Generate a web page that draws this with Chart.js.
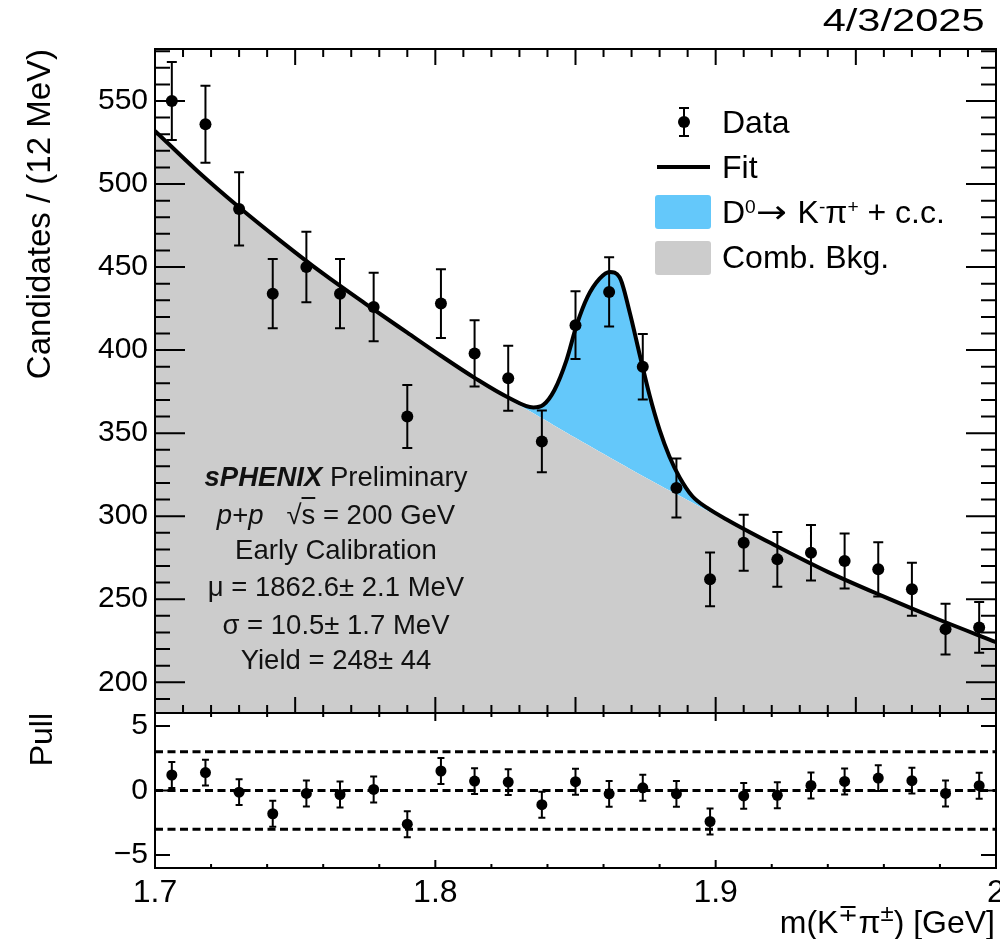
<!DOCTYPE html>
<html>
<head>
<meta charset="utf-8">
<script src="https://cdn.jsdelivr.net/npm/chart.js@4.4.1/dist/chart.umd.min.js"></script>
<style>
  html, body { margin: 0; padding: 0; background: #fff; overflow: hidden; }
  body { width: 1000px; height: 939px; position: relative; font-family: 'Liberation Sans', Arial, sans-serif; color: #000; }
  canvas { position: absolute; left: 0; }
  #mainCanvas { top: 0; }
  #pullCanvas { top: 688px; }
  .txt { position: absolute; white-space: nowrap; line-height: 1; }
  .sup { position: relative; top: -0.5em; font-size: 60%; line-height: 0; }
  .ann { position: absolute; left: 336px; transform: translateX(-50%); font-size: 27.5px; line-height: 1; white-space: nowrap; color: #111; }
  .leg { position: absolute; left: 722px; font-size: 32px; line-height: 1; white-space: nowrap; }
  .arrow { font-family: 'DejaVu Sans', sans-serif; display: inline-block; transform: scaleX(1.15); transform-origin: left center; margin-right: 15px; }
  .box { position: absolute; }
</style>
</head>
<body>
<canvas id="mainCanvas" width="1030" height="760"></canvas>
<canvas id="pullCanvas" width="1030" height="251"></canvas>

<div class="txt" style="right:15px; top:4px; font-size:32px; transform:scaleX(1.3); transform-origin:right center;">4/3/2025</div>

<!-- legend -->
<div class="box" style="left:683px; top:108px; width:2px; height:28px; background:#000;"></div>
<div class="box" style="left:679px; top:107px; width:10px; height:2px; background:#000;"></div>
<div class="box" style="left:679px; top:135px; width:10px; height:2px; background:#000;"></div>
<div class="box" style="left:678px; top:116px; width:12px; height:12px; border-radius:50%; background:#000;"></div>
<div class="box" style="left:657px; top:165px; width:53px; height:4px; background:#000;"></div>
<div class="box" style="left:655px; top:195px; width:56px; height:34px; border-radius:3px; background:rgb(100,200,250);"></div>
<div class="box" style="left:655px; top:241px; width:56px; height:34px; border-radius:3px; background:#cccccc;"></div>
<div class="leg" style="top:106px;">Data</div>
<div class="leg" style="top:151px;">Fit</div>
<div class="leg" style="top:196px;">D<span class="sup">0</span><span class="arrow">→</span>K<span class="sup">-</span>π<span class="sup">+</span> + c.c.</div>
<div class="leg" style="top:241px;">Comb. Bkg.</div>

<!-- annotation -->
<div class="ann" style="top:463px;"><b><i>sPHENIX</i></b> Preliminary</div>
<div class="ann" style="top:501px;"><i>p</i>+<i>p</i>&nbsp;&nbsp;&nbsp;√<span style="text-decoration:overline">s</span> = 200 GeV</div>
<div class="ann" style="top:536px;">Early Calibration</div>
<div class="ann" style="top:573px;">μ = 1862.6± 2.1 MeV</div>
<div class="ann" style="top:611px;">σ = 10.5± 1.7 MeV</div>
<div class="ann" style="top:646px;">Yield = 248± 44</div>

<div class="txt" style="right:5px; top:906px; font-size:32px;">m(K<span class="sup" style="font-size:75%">∓</span>π<span class="sup" style="font-size:75%">±</span>) [GeV]</div>

<script>
// ---- values ----
const binCenters = [1.706, 1.718, 1.730, 1.742, 1.754, 1.766, 1.778, 1.790, 1.802, 1.814, 1.826, 1.838, 1.850,
                    1.862, 1.874, 1.886, 1.898, 1.910, 1.922, 1.934, 1.946, 1.958, 1.970, 1.982, 1.994];
const counts = [550, 536, 485, 434, 450, 434, 426, 360, 428, 398, 383, 345, 415,
                435, 390, 317, 262, 284, 274, 278, 273, 268, 256, 232, 233];
const countErr = [23.45, 23.15, 22.02, 20.83, 21.21, 20.83, 20.64, 18.97, 20.69, 19.95, 19.57, 18.57, 20.37,
                  20.86, 19.75, 17.80, 16.19, 16.85, 16.55, 16.67, 16.52, 16.37, 16.00, 15.23, 15.26];
const pulls = [1.2, 1.39, -0.13, -1.8, -0.23, -0.31, 0.08, -2.61, 1.51, 0.73, 0.65, -1.1, 0.68,
               -0.26, 0.21, -0.26, -2.4, -0.42, -0.37, 0.39, 0.7, 0.96, 0.76, -0.23, 0.37];
const pullErr = [1, 1, 1, 1, 1, 1, 1, 1, 1, 1, 1, 1, 1, 1, 1, 1, 1, 1, 1, 1, 1, 1, 1, 1, 1];

// fit curve (signal + background) and background alone
const curveMass = [1.700, 1.715, 1.730, 1.745, 1.760, 1.775, 1.790, 1.802, 1.814, 1.826, 1.835, 1.8385, 1.8425,
                   1.8468, 1.8504, 1.8543, 1.8586, 1.8622, 1.8657, 1.8693, 1.8728, 1.8764, 1.880, 1.8835, 1.8871,
                   1.8917, 1.897, 1.905, 1.920, 1.940, 1.960, 1.980, 2.000];
const fitTotal = [532, 508, 486, 465.5, 446, 428, 410.5, 396.6, 383.3, 371.5, 365.5, 367, 376,
                  394, 415, 432, 443, 447, 444, 423, 398, 373, 352, 336, 323.5,
                  312, 305, 297, 283.5, 266.5, 251.6, 237.5, 224.2];
const fitBkg = [532, 508, 486, 465.5, 446, 428, 410.5, 396.6, 383.1, 370.6, 362, 358.5, 354.5,
                350.3, 346.8, 343, 338.8, 335.4, 332, 328.6, 325.3, 322, 318.7, 315.5, 312.3,
                308.1, 303.3, 296.3, 283.3, 266.5, 251.6, 237.5, 224.2];

const pullGuides = [3, 0, -3];
const mainYTicks = [200, 250, 300, 350, 400, 450, 500, 550];
const pullYTicks = [-5, 0, 5];
const massTicks = [1.7, 1.8, 1.9, 2.0];

const bkgGray = '#cccccc';
const signalBlue = 'rgb(100,200,250)';
const fontFamily = "'Liberation Sans', Arial, sans-serif";

Chart.defaults.font.family = fontFamily;
Chart.defaults.color = '#000';

// frame with inward ticks, ROOT style
const framePlugin = {
  id: 'frame',
  afterDraw(chart, args, opts) {
    const { ctx, chartArea: a, scales: { x, y } } = chart;
    ctx.save();
    ctx.strokeStyle = '#000';
    ctx.lineWidth = 2;
    ctx.beginPath();
    for (let i = 0; i <= opts.xCount; i++) {
      const px = x.getPixelForValue(x.min + i * opts.xStep);
      const major = i % opts.xMajorEvery === 0;
      const lenTop = major ? opts.xMajorTop : opts.xMinorTop;
      const lenBot = major ? opts.xMajorBot : opts.xMinorBot;
      ctx.moveTo(px, a.top); ctx.lineTo(px, a.top + lenTop);
      ctx.moveTo(px, a.bottom); ctx.lineTo(px, a.bottom - lenBot);
    }
    const start = Math.ceil(y.min / opts.yStep) * opts.yStep;
    for (let v = start; v <= y.max; v += opts.yStep) {
      const py = y.getPixelForValue(v);
      const len = Math.abs(v % opts.yMajor) < 1e-6 ? opts.yMajorLen : opts.yMinorLen;
      ctx.moveTo(a.left, py); ctx.lineTo(a.left + len, py);
      ctx.moveTo(a.right, py); ctx.lineTo(a.right - len, py);
    }
    ctx.stroke();
    ctx.strokeRect(a.left, a.top, a.right - a.left, a.bottom - a.top);
    ctx.restore();
  }
};

const errorBarPlugin = {
  id: 'errorBars',
  afterDatasetsDraw(chart) {
    const { ctx, chartArea: a, scales: { y } } = chart;
    chart.data.datasets.forEach((ds, di) => {
      if (!ds.errors) return;
      const meta = chart.getDatasetMeta(di);
      ctx.save();
      ctx.beginPath();
      ctx.rect(a.left, a.top, a.right - a.left, a.bottom - a.top);
      ctx.clip();
      ctx.strokeStyle = '#000';
      ctx.lineWidth = ds.errWidth;
      ctx.beginPath();
      meta.data.forEach((pt, i) => {
        const v = ds.data[i].y, e = ds.errors[i];
        const top = y.getPixelForValue(v + e), bot = y.getPixelForValue(v - e);
        ctx.moveTo(pt.x, top); ctx.lineTo(pt.x, bot);
        ctx.moveTo(pt.x - ds.capHalf, top); ctx.lineTo(pt.x + ds.capHalf, top);
        ctx.moveTo(pt.x - ds.capHalf, bot); ctx.lineTo(pt.x + ds.capHalf, bot);
      });
      ctx.stroke();
      ctx.restore();
    });
  }
};

const toXY = (xs, ys) => xs.map((m, i) => ({ x: m, y: ys[i] }));

// ---- main panel ----
new Chart(document.getElementById('mainCanvas'), {
  type: 'line',
  data: {
    datasets: [
      {
        label: 'Comb. Bkg.',
        data: toXY(curveMass, fitBkg),
        borderWidth: 0,
        pointRadius: 0,
        backgroundColor: bkgGray,
        fill: 'start',
        cubicInterpolationMode: 'monotone',
        order: 3
      },
      {
        label: 'Fit',
        data: toXY(curveMass, fitTotal),
        borderColor: '#000',
        borderWidth: 4,
        pointRadius: 0,
        backgroundColor: signalBlue,
        fill: { target: 0, above: signalBlue, below: 'rgba(0,0,0,0)' },
        cubicInterpolationMode: 'monotone',
        order: 2
      },
      {
        label: 'Data',
        data: toXY(binCenters, counts),
        showLine: false,
        pointRadius: 6,
        pointBorderWidth: 0,
        pointBackgroundColor: '#000',
        errors: countErr,
        errWidth: 2,
        capHalf: 5,
        order: 1
      }
    ]
  },
  options: {
    responsive: false,
    animation: false,
    devicePixelRatio: 1,
    layout: { padding: { left: 0, right: 34, top: 49, bottom: 47 } },
    plugins: {
      legend: { display: false },
      tooltip: { enabled: false },
      frame: {
        xStep: 0.01, xCount: 30, xMajorEvery: 5,
        xMinorTop: 8, xMajorTop: 16, xMinorBot: 8, xMajorBot: 16,
        yStep: 10, yMajor: 50, yMinorLen: 15, yMajorLen: 30
      }
    },
    scales: {
      x: { type: 'linear', min: 1.7, max: 2.0, display: false },
      y: {
        min: 181.5,
        max: 581.3,
        afterBuildTicks: s => { s.ticks = mainYTicks.map(v => ({ value: v })); },
        afterFit: s => { s.width = 155; },
        grid: { display: false, drawTicks: false },
        border: { display: false },
        ticks: { padding: 7, font: { size: 30 }, color: '#000' },
        title: {
          display: true, text: 'Candidates / (12 MeV)', align: 'end',
          font: { size: 33 }, color: '#000', padding: { top: 21, bottom: 0 }
        }
      }
    }
  },
  plugins: [errorBarPlugin, framePlugin]
});

// ---- pull panel ----
const guideSets = pullGuides.map(g => ({
  data: [{ x: 1.7, y: g }, { x: 2.0, y: g }],
  borderColor: '#000',
  borderWidth: 3,
  borderDash: [8, 4.5],
  pointRadius: 0,
  fill: false,
  order: 2
}));

new Chart(document.getElementById('pullCanvas'), {
  type: 'line',
  data: {
    datasets: [
      ...guideSets,
      {
        label: 'Pull',
        data: toXY(binCenters, pulls),
        showLine: false,
        pointRadius: 5.5,
        pointBorderWidth: 0,
        pointBackgroundColor: '#000',
        errors: pullErr,
        errWidth: 2,
        capHalf: 3.5,
        order: 1
      }
    ]
  },
  options: {
    responsive: false,
    animation: false,
    devicePixelRatio: 1,
    layout: { padding: { left: 0, right: 34, top: 25, bottom: 26 } },
    plugins: {
      legend: { display: false },
      tooltip: { enabled: false },
      frame: {
        xStep: 0.02, xCount: 15, xMajorEvery: 5,
        xMinorTop: 4, xMajorTop: 8, xMinorBot: 4, xMajorBot: 8,
        yStep: 5, yMajor: 5, yMinorLen: 15, yMajorLen: 15
      }
    },
    scales: {
      x: {
        type: 'linear', min: 1.7, max: 2.0,
        afterBuildTicks: s => { s.ticks = massTicks.map(v => ({ value: v })); },
        afterFit: s => { s.height = 45; },
        grid: { display: false, drawTicks: false },
        border: { display: false },
        ticks: {
          padding: 6, autoSkip: false, maxRotation: 0, font: { size: 32 }, color: '#000',
          callback: v => (v === 2 ? '2' : v.toFixed(1))
        }
      },
      y: {
        min: -6, max: 6,
        afterBuildTicks: s => { s.ticks = pullYTicks.map(v => ({ value: v })); },
        afterFit: s => { s.width = 155; },
        grid: { display: false, drawTicks: false },
        border: { display: false },
        ticks: {
          padding: 7, font: { size: 30 }, color: '#000',
          callback: v => (v < 0 ? '\u2212' + Math.abs(v) : String(v))
        },
        title: {
          display: true, text: 'Pull', align: 'end',
          font: { size: 32 }, color: '#000', padding: { top: 24, bottom: 0 }
        }
      }
    }
  },
  plugins: [errorBarPlugin, framePlugin]
});
</script>
</body>
</html>
